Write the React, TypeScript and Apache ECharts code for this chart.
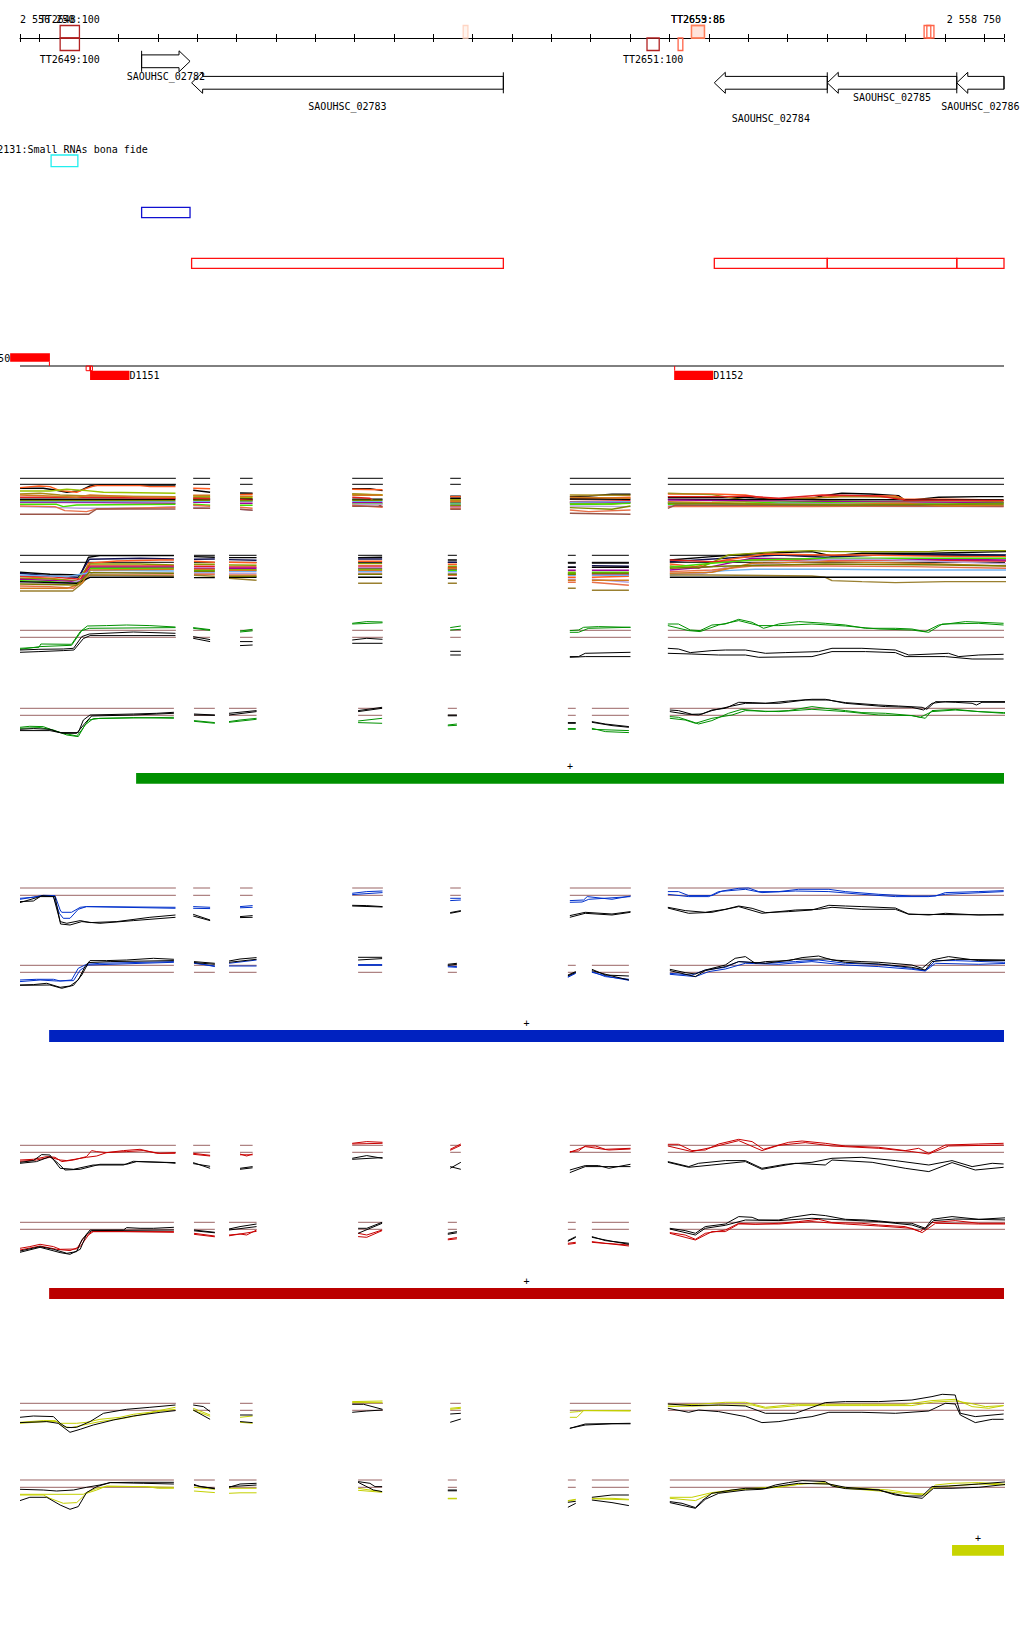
import React, { useEffect, useRef } from "react";
import * as echarts from "echarts";

// ---------------- DATA ----------------
const START = 2556250;
const END = 2558750;
const RULER_TICKS = [2556250, 2556300, 2556400, 2556500, 2556600, 2556700, 2556800, 2556900, 2557000, 2557100, 2557200, 2557300, 2557400, 2557500, 2557600, 2557700, 2557800, 2557900, 2558000, 2558100, 2558200, 2558300, 2558400, 2558500, 2558600, 2558700, 2558750];
const POS_LABELS = [2556250, 2558750];

const TT_NAMES = ["TT2648", "TT2649", "TT2650", "TT2651", "TT2652", "TT2653", "TT2659", "TT2660", "TT2661"];
const TT_START = [2556352, 2556352, 2557376, 2557843, 2557922, 2557956, 2557956, 2558547, 2558554];
const TT_END = [2556401, 2556401, 2557388, 2557874, 2557934, 2557989, 2557989, 2558564, 2558572];
const TT_STRAND = ["+", "-", "+", "-", "-", "+", "+", "+", "+"];
const TT_SCORE = [100, 100, 20, 100, 90, 86, 85, 90, 92];
const TT_LABELED = [true, true, false, true, false, true, true, false, false];

const GENE_NAMES = ["SAOUHSC_02782", "SAOUHSC_02783", "SAOUHSC_02784", "SAOUHSC_02785", "SAOUHSC_02786"];
const GENE_START = [2556559, 2556686, 2558014, 2558301, 2558630];
const GENE_END = [2556682, 2557478, 2558301, 2558630, 2558900];
const GENE_STRAND = ["+", "-", "-", "-", "-"];

const SRNA_TRACK = "2131:Small RNAs bona fide";
const SRNA_START = [2556329];
const SRNA_END = [2556397];

const D_NAMES = ["D1150", "D1151", "D1152"];
const D_START = [2556225, 2556428, 2557912];
const D_END = [2556326, 2556528, 2558011];
const D_STRAND = ["+", "-", "-"];
const SITE_START = [2556418, 2556428];
const SITE_END = [2556428, 2556434];

const BAR_START = [2556545, 2556324, 2556324, 2558618];
const BAR_END = [2558750, 2558750, 2558750, 2558750];
const BAR_STRAND = ["+", "+", "+", "+"];

// measured segments (bp offsets from START)
const SEG_F = [[0, 396], [440, 483], [559, 591], [844, 922], [1093, 1120], [1397, 1552], [1646, 2500]];
const SEG_R = [[0, 391], [442, 495], [531, 601], [859, 920], [1087, 1110], [1392, 1412], [1453, 1547], [1651, 2515]];

const REF_LEVELS = [[0, 6], [0, 7], [0, 7], [0, 7], [0, 7.3], [0, 7], [0, 7], [0, 7], [0, 7], [0, 7.3]];

// Track 1 (multi-sample, forward)
const T1_LINES = [
  [[[0,-4],[59,-4],[89,-5.7],[119,-8],[153,-6.3],[178,-1.7],[203,-0.7],[395,-0.7]],[[440,-6],[483,-8]],[[559,-8.7],[591,-9]],[[844,-4.3],[889,-4.3],[921,-6.3]],[[1093,-12],[1120,-12]],[[1397,-12.3],[1445,-11.7],[1504,-10],[1551,-10]],[[1646,-13],[1758,-13],[1843,-13],[1928,-15],[2012,-14],[2038,-11.7],[2088,-9],[2160,-9.7],[2232,-11.3],[2249,-16.3],[2334,-13],[2436,-12.3],[2499,-12.3]]],
  [[[0,-3.3],[49,-1.7],[76,-2.3],[102,-6.3],[144,-8],[169,-4],[191,-1.3],[305,-1.3],[330,-2.3],[395,-2.3]],[[440,-4],[483,-4.5]],[[559,-10.3],[591,-10]],[[844,-5],[921,-5.5]],[[1093,-12.5],[1120,-12.5]],[[1397,-15],[1551,-13]],[[1646,-9.7],[1758,-9.7],[1843,-10.7],[1877,-13],[1928,-15],[2038,-13],[2097,-11.7],[2224,-11.7],[2249,-15],[2351,-15],[2499,-15.7]]],
  [[[0,-6.7],[76,-6.7],[119,-5],[169,-6.3],[212,-8],[395,-9]],[[440,-11.7],[483,-12.3]],[[559,-13],[591,-13]],[[844,-10],[921,-10.5]],[[1093,-15],[1120,-15]],[[1397,-19],[1504,-20],[1551,-18.3]],[[1646,-18.3],[1758,-18],[1843,-17.3],[1928,-18.3],[2038,-16.3],[2182,-17.3],[2266,-17.3],[2499,-18.3]]],
  [[[0,-9.7],[51,-9],[102,-10.7],[178,-11.7],[395,-12.3]],[[440,-13],[483,-13]],[[559,-14],[591,-14.5]],[[844,-9.5],[921,-11]],[[1093,-16],[1120,-16]],[[1397,-10.7],[1551,-11]],[[1646,-9],[1758,-10.3],[1843,-15.7],[1928,-15.7],[2038,-13.3],[2097,-12.3],[2224,-13],[2249,-15.7],[2499,-17.3]]],
  [[[0,-15],[395,-15]],[[440,-15],[483,-15]],[[559,-15],[591,-15]],[[844,-15],[921,-15]],[[1093,-14],[1120,-14]],[[1397,-14.7],[1551,-15]],[[1646,-15],[2499,-15.7]]],
  [[[0,-13],[119,-13],[395,-14]],[[440,-14],[483,-14.5]],[[559,-15.5],[591,-16]],[[844,-13],[889,-14],[921,-23]],[[1093,-22],[1120,-22]],[[1397,-17.3],[1551,-16.3]],[[1646,-12.3],[1800,-12.3],[1843,-11.7],[1928,-14],[2038,-10.7],[2182,-11.7],[2249,-15.7],[2499,-16.3]]],
  [[[0,-18],[203,-18.3],[395,-19]],[[440,-18],[483,-18]],[[559,-19],[591,-19]],[[844,-18.5],[921,-18.5]],[[1093,-18],[1120,-18]],[[1397,-18.3],[1551,-18]],[[1646,-15.7],[2097,-17.3],[2499,-18.3]]],
  [[[0,-20],[93,-20],[110,-22.3],[144,-20.7],[395,-20]],[[440,-20],[483,-21]],[[559,-21],[591,-21]],[[844,-19.5],[921,-19.5]],[[1093,-19],[1120,-19]],[[1397,-20],[1462,-20],[1551,-19]],[[1646,-20],[1843,-19],[1928,-18],[2182,-19],[2351,-19.7],[2499,-19]]],
  [[[0,-17.3],[395,-17.3]],[[440,-17],[483,-17]],[[559,-17],[591,-17]],[[844,-17],[921,-17]],[[1093,-20],[1120,-20]],[[1397,-18],[1551,-17.3]],[[1646,-18.3],[1843,-20.7],[1928,-19],[2182,-20],[2499,-20.7]]],
  [[[0,-22.3],[102,-23.3],[153,-24],[195,-24],[330,-23.3],[395,-22.3]],[[440,-23],[483,-24]],[[559,-25],[591,-26]],[[844,-20],[921,-20]],[[1093,-23],[1120,-23]],[[1397,-21.7],[1551,-22.3]],[[1646,-21.3],[1928,-21.7],[2266,-22.3],[2499,-22.3]]],
  [[[0,-21.7],[89,-22.3],[114,-26.3],[169,-27.3],[195,-24.7],[395,-23]],[[440,-21],[483,-22]],[[559,-23],[591,-24]],[[844,-21],[921,-23]],[[1093,-24],[1120,-24]],[[1397,-25.7],[1445,-27.3],[1551,-25.7]],[[1646,-22.3],[2012,-22.3],[2266,-21.7],[2499,-22.3]]],
  [[[0,-30],[174,-30],[195,-24.7],[395,-24.7]],[[440,-24],[483,-24]],[[559,-25],[591,-26]],[[844,-22],[921,-22]],[[1093,-25],[1120,-25]],[[1397,-29],[1551,-30]],[[1646,-24],[1665,-20.7],[2499,-21.7]]],
  [[[0,-10.7],[76,-11.7],[144,-13],[178,-10.7],[288,-12.3],[395,-13]],[[440,-11],[483,-11]],[[559,-12],[591,-12]],[[844,-11],[921,-11]],[[1093,-17],[1120,-17]],[[1397,-13],[1551,-14]],[[1646,-17.3],[1928,-20],[2097,-20],[2249,-19],[2351,-21.7],[2499,-20.7]]],
  [[[0,-16.3],[395,-16.3]],[[440,-16],[483,-16]],[[559,-16.5],[591,-16.5]],[[844,-16],[921,-16]],[[1093,-21],[1120,-21]],[[1397,-23.3],[1504,-25],[1551,-21.7]],[[1646,-19],[2097,-20.7],[2499,-19.7]]],
];

// Track 2 (multi-sample, reverse)
const T2_LINES = [
  [[[0,-10],[76,-12],[153,-12.7],[174,5],[203,6.7],[391,6.7]],[[442,5.7],[495,5]],[[531,4.7],[601,4.7]],[[859,4.7],[920,5]],[[1087,2.3],[1110,2.3]],[[1392,-0.7],[1412,-0.7]],[[1453,-0.7],[1547,-0.7]],[[1651,2.3],[1758,5.7],[1885,9],[2012,10.7],[2063,6.3],[2139,9],[2309,9],[2514,10.7]]],
  [[[0,-11],[76,-13.7],[148,-15],[176,3],[305,4],[391,3.3]],[[442,3],[495,3.3]],[[531,2.7],[601,2]],[[859,3.3],[920,3.3]],[[1087,0],[1110,0]],[[1392,-5],[1412,-5]],[[1453,-3.3],[1547,-4]],[[1651,0.7],[1792,4],[1928,7.3],[2046,5],[2182,7.3],[2351,8],[2514,7.3]]],
  [[[0,-14.3],[76,-16],[153,-19.3],[174,-1],[246,1.3],[356,2.3],[391,2.3]],[[442,1],[495,0]],[[531,0],[601,-0.5]],[[859,1],[920,1]],[[1087,-2],[1110,-2]],[[1392,-15],[1412,-15]],[[1453,-15],[1547,-14]],[[1651,-1.7],[1716,-4.3],[1792,2.3],[1894,8.3],[2046,7.3],[2139,7.3],[2393,5.7],[2514,5.7]]],
  [[[0,-16],[76,-16.7],[144,-18.3],[178,-1.7],[305,-1.7],[391,-2.7]],[[442,-2],[495,-2]],[[531,-2.7],[601,-3]],[[859,-1.3],[920,-1.3]],[[1087,-4],[1110,-4]],[[1392,-10],[1412,-10]],[[1453,-11],[1547,-12]],[[1651,-3.7],[1724,-6],[1800,7.3],[1928,10.7],[2012,11.7],[2063,10.7],[2309,10.7],[2351,11.7],[2514,11.7]]],
  [[[0,-13.7],[76,-14.3],[153,-17],[176,-3.7],[391,-3.7]],[[442,-4],[495,-4]],[[531,-4.7],[601,-4.7]],[[859,-3.7],[920,-3.7]],[[1087,-5.3],[1110,-5.3]],[[1392,-12],[1412,-12]],[[1453,-12.5],[1547,-12.5]],[[1651,2.3],[1758,0.7],[1860,2.3],[2046,2.3],[2182,2.3],[2514,1.3]]],
  [[[0,-17],[153,-19.3],[178,-5],[391,-5]],[[442,-6],[495,-6]],[[531,-6],[601,-6]],[[859,-6],[920,-6]],[[1087,-7],[1110,-7]],[[1392,-8],[1412,-8]],[[1453,-8],[1547,-8]],[[1651,-7.7],[1758,-4.3],[1860,4],[2046,3.3],[2351,3],[2514,2.3]]],
  [[[0,-18.3],[76,-19.3],[153,-21],[180,-6],[391,-6]],[[442,-8],[495,-8]],[[531,-7.5],[601,-7.5]],[[859,-7],[920,-7]],[[1087,-8],[1110,-8]],[[1392,-11],[1412,-11]],[[1453,-10],[1547,-10]],[[1651,-5],[1758,-1],[1860,2.3],[2055,4],[2266,4],[2514,4]]],
  [[[0,-12.7],[119,-14.3],[169,-11],[182,-7.7],[391,-8.7]],[[442,-10],[495,-10]],[[531,-9],[601,-9]],[[859,-9],[920,-9]],[[1087,-9.3],[1110,-9.3]],[[1392,-13],[1412,-13]],[[1453,-13],[1547,-13]],[[1651,-12.7],[1724,-11],[1792,-8.3],[1868,-7],[2055,-7],[2266,-7.7],[2514,-7.7]]],
  [[[0,-20.3],[119,-21.7],[161,-17],[186,-10],[391,-11]],[[442,-11],[495,-11]],[[531,-11],[601,-11]],[[859,-10.7],[920,-10.7]],[[1087,-11],[1110,-11]],[[1392,-17],[1412,-17]],[[1453,-17],[1547,-20]],[[1651,-11],[1733,-11.7],[1800,-4.3],[1928,-1],[2055,3],[2182,3],[2514,-1.7]]],
  [[[0,-23.7],[76,-24.3],[136,-26],[174,-12.7],[391,-12.7]],[[442,-12],[495,-12]],[[531,-12.7],[601,-12.7]],[[859,-12],[920,-12]],[[1087,-13],[1110,-13]],[[1392,-20],[1412,-20]],[[1453,-20],[1547,-23]],[[1651,-9.3],[1758,-7.7],[1860,-3.7],[2055,-3.7],[2266,-4.3],[2514,-6]]],
  [[[0,-28.7],[134,-28.7],[153,-22.7],[178,-12.7],[391,-13.7]],[[442,-13],[495,-14]],[[531,-16],[601,-18]],[[859,-21],[920,-21]],[[1087,-21],[1110,-21]],[[1392,-26],[1412,-26]],[[1453,-28],[1547,-28]],[[1651,-12.7],[1758,-12.7],[2012,-13.7],[2046,-15],[2063,-18.3],[2139,-19.3],[2224,-20.3],[2351,-19.3],[2514,-19.3]]],
  [[[0,-19.3],[144,-21],[178,-15],[391,-15]],[[442,-15.3],[495,-15.3]],[[531,-15],[601,-15]],[[859,-15],[920,-15]],[[1087,-16],[1110,-16]],[[1392,-5],[1412,-5]],[[1453,-5],[1547,-5]],[[1651,-15],[2514,-15]]],
  [[[0,-26],[119,-26],[157,-21],[178,-7.7],[391,-7]],[[442,-7],[495,-7]],[[531,-8],[601,-8]],[[859,-8],[920,-8]],[[1087,-6],[1110,-6]],[[1392,-18],[1412,-18]],[[1453,-18],[1547,-18]],[[1651,-11],[1758,-10],[1860,-1],[2055,0.7],[2266,-1],[2514,-3.7]]],
  [[[0,-21.7],[144,-22.7],[176,-10.3],[391,-11]],[[442,-9],[495,-9]],[[531,-14],[601,-14]],[[859,-12],[920,-12]],[[1087,-12],[1110,-12]],[[1392,-12],[1412,-12]],[[1453,-11],[1547,-11]],[[1651,-6],[1800,-3.7],[2046,-1.7],[2351,-2.7],[2514,-3.7]]],
];

// Track 3 (green condition, forward)
const T3_C1 = [[[0,-11],[48,-10],[53,-6.7],[131,-7],[153,5.7],[171,11.3],[220,11.7],[271,12.3],[330,11.7],[395,10.3]],[[440,9.7],[483,7.7]],[[559,6.3],[591,8]],[[844,14],[881,15.7],[921,15.3]],[[1093,9.7],[1120,11.3]],[[1397,6.7],[1419,7.3],[1432,10],[1470,10.7],[1551,10]],[[1646,13.3],[1673,13.3],[1703,7.3],[1728,6.7],[1758,12.3],[1792,13.3],[1826,18],[1860,15],[1889,9],[1928,13.3],[1978,15.7],[2046,14],[2097,12.3],[2148,9],[2224,9],[2266,8.3],[2300,5.7],[2334,12.3],[2402,15.7],[2499,14]]];
const T3_C2 = [[[0,-12],[51,-9.3],[131,-8],[157,6.7],[176,9],[395,9.7]],[[440,9],[483,7]],[[559,5.3],[591,6.5]],[[844,13.3],[921,14.5]],[[1093,7.3],[1120,8]],[[1397,5],[1419,5],[1445,9],[1551,10]],[[1646,11.7],[1699,6.7],[1728,5.7],[1775,12.3],[1826,16.7],[1877,11.7],[1928,11.7],[2012,13.3],[2097,11.3],[2182,8.3],[2266,7.3],[2309,5],[2343,13.3],[2436,14],[2499,12.3]]];
const T3_K1 = [[[0,-12.7],[48,-12],[110,-11.7],[136,-11],[157,0.7],[176,3.3],[288,5.3],[395,4]],[[440,0.7],[483,-2.3]],[[559,-4.3],[591,-4.3]],[[844,-2.7],[881,-1],[921,-2]],[[1093,-14],[1120,-14]],[[1397,-19.3],[1419,-19.3],[1436,-16],[1551,-15]],[[1646,-11],[1673,-11.7],[1703,-15.3],[1758,-13.3],[1792,-12.7],[1843,-12.7],[1894,-16],[1944,-15.3],[2029,-14.3],[2063,-11],[2139,-11],[2224,-12.7],[2258,-17.7],[2359,-16],[2385,-19.3],[2436,-17.7],[2499,-17]]];
const T3_K2 = [[[0,-15],[48,-14.3],[110,-13.3],[137,-12.7],[161,-1.3],[178,1.7],[395,1.7]],[[440,-1],[483,-4.3]],[[559,-8.3],[591,-7.7]],[[844,-6],[921,-6]],[[1093,-17.7],[1120,-17.7]],[[1397,-20],[1436,-19.3],[1551,-19.3]],[[1646,-16],[1707,-16.7],[1775,-17.7],[1843,-17.7],[1877,-20],[2012,-19.3],[2063,-14.3],[2148,-14.3],[2224,-15.3],[2249,-19.3],[2351,-19.3],[2419,-21.7],[2499,-21.7]]];

// Track 4 (green condition, reverse)
const T4_C1 = [[[0,-12],[25,-11],[59,-11.3],[93,-16.3],[144,-20.7],[157,-14.7],[174,-4.7],[203,-3],[288,-2.3],[391,-3]],[[442,-5.3],[495,-7.3]],[[531,-6.3],[559,-4.7],[601,-3]],[[859,-5.7],[920,-3]],[[1087,-9.7],[1110,-8.7]],[[1392,-13.3],[1412,-13.3]],[[1453,-13],[1487,-16.3],[1547,-17.3]],[[1651,-1.3],[1673,-2],[1707,-6.3],[1724,-8.7],[1758,-5.3],[1800,2],[1834,6],[1894,3.7],[1953,4.7],[2012,8.7],[2046,7],[2097,4.7],[2139,2.7],[2199,2],[2266,-0.3],[2300,-3],[2317,4.7],[2376,6],[2436,3.7],[2499,2.7],[2514,2.7]]];
const T4_C2 = [[[0,-13],[51,-12.3],[85,-14.7],[119,-19.7],[148,-21.3],[165,-9.7],[186,-3.3],[391,-2]],[[442,-6],[495,-8]],[[531,-7],[601,-4]],[[859,-7.3],[920,-8]],[[1087,-10.5],[1110,-10]],[[1392,-14],[1412,-14]],[[1453,-14],[1504,-14.7],[1547,-15.3]],[[1651,-3],[1690,-4.7],[1716,-8],[1758,-3],[1809,0.3],[1843,4.7],[1928,3.7],[2012,6],[2097,3.7],[2182,0.3],[2266,-0.3],[2287,-2],[2317,3.7],[2376,5.3],[2499,2],[2514,2]]];
const T4_K1 = [[[0,-14],[34,-13.3],[76,-14],[102,-17.3],[148,-17.3],[161,-4.7],[178,0.3],[288,1.3],[347,2],[391,3]],[[442,1.3],[495,0.3]],[[531,2],[601,4.7]],[[859,4.7],[920,8]],[[1087,0.3],[1110,0.3]],[[1392,-7.3],[1412,-7.3]],[[1453,-6.3],[1487,-8.7],[1547,-11.3]],[[1651,5.3],[1673,4.7],[1707,1],[1733,1.3],[1758,5.3],[1792,7],[1826,13],[1860,12.7],[1894,12],[1953,14.3],[2012,16],[2046,16],[2063,14.7],[2097,12.7],[2182,10.3],[2232,9.3],[2292,8],[2304,6],[2326,13.7],[2376,13],[2419,12],[2430,10.3],[2444,13],[2514,13]]];
const T4_K2 = [[[0,-15.3],[76,-15.3],[110,-18],[144,-18],[165,-8],[182,-0.7],[288,0.3],[391,2]],[[442,0.3],[495,0]],[[531,0.3],[601,3.7]],[[859,3.7],[920,7]],[[1087,-0.5],[1110,-0.5]],[[1392,-8],[1412,-8]],[[1453,-7],[1504,-10.3],[1547,-12]],[[1651,3.7],[1690,1.3],[1724,0.3],[1758,4.7],[1809,9.3],[1843,12],[1928,12],[1995,15.3],[2055,15.3],[2097,12],[2199,8.7],[2266,8],[2296,5.3],[2317,12],[2351,13.7],[2514,13.7]]];

// Track 5 (blue condition, forward)
const T5_C1 = [[[0,-3],[34,-2],[59,0],[89,-0.3],[102,-14.7],[106,-17],[131,-17],[153,-12],[169,-11.3],[395,-12]],[[440,-11.3],[483,-12]],[[559,-11.3],[591,-10.3]],[[844,2],[881,3.7],[921,4.3]],[[1093,-3],[1120,-3]],[[1397,-5.3],[1432,-4.7],[1441,-1.3],[1504,-4],[1551,-0.7]],[[1646,3.7],[1673,3.7],[1699,-0.3],[1758,-0.3],[1784,4.3],[1826,7],[1851,7.3],[1877,3.7],[1928,3.7],[1978,6],[2055,6],[2097,3.7],[2182,1],[2266,-0.7],[2326,-0.7],[2351,2.7],[2436,3.7],[2499,4.7]]];
const T5_C2 = [[[0,-4],[51,-0.7],[85,-1.3],[100,-18],[110,-23],[127,-23],[148,-14],[169,-11.3],[395,-13]],[[440,-13],[483,-13.3]],[[559,-12.5],[591,-12]],[[844,0.7],[921,2.7]],[[1093,-5.3],[1120,-4.7]],[[1397,-7],[1428,-6.7],[1445,-4],[1551,-1.3]],[[1646,1],[1699,-1.3],[1750,-1.3],[1775,3.7],[1843,6],[1885,2.7],[1970,4.3],[2055,3.7],[2139,1],[2224,-1.3],[2309,-1.3],[2351,1],[2499,3.7]]];
const T5_K1 = [[[0,-6.3],[34,-5.7],[55,-0.3],[85,-1.3],[102,-26.3],[119,-28],[153,-25.3],[178,-27.3],[246,-26.3],[330,-22],[395,-19.7]],[[440,-19],[483,-24.7]],[[559,-21.3],[591,-20.3]],[[844,-10],[881,-10.3],[921,-11.3]],[[1093,-17.3],[1120,-15.3]],[[1397,-20.3],[1436,-17],[1504,-18.7],[1551,-16.3]],[[1646,-12],[1690,-15.3],[1741,-17],[1792,-14],[1826,-10.7],[1860,-13],[1894,-17.3],[1953,-16.3],[2012,-14.7],[2055,-10],[2097,-10.7],[2139,-11.3],[2224,-12.7],[2258,-18.7],[2309,-19.7],[2351,-18],[2436,-19.7],[2499,-19]]];
const T5_K2 = [[[0,-7.3],[51,-1.3],[89,-1.3],[103,-28.7],[127,-29.7],[157,-26.3],[203,-28],[288,-25.3],[395,-22]],[[440,-20.7],[483,-25.3]],[[559,-22.3],[591,-22]],[[844,-10.7],[921,-11.7]],[[1093,-18],[1120,-16]],[[1397,-22],[1436,-18],[1504,-19.7],[1551,-17]],[[1646,-12.7],[1699,-18],[1758,-17],[1826,-11.3],[1885,-18],[1970,-14.7],[2029,-14],[2063,-12],[2139,-14],[2224,-14],[2258,-19],[2499,-19.7]]];

// Track 6 (blue condition, reverse)
const T6_C1 = [[[0,-7.7],[42,-7],[85,-7],[102,-8.7],[131,-7.7],[148,4],[169,8],[203,9],[391,10.7]],[[442,9.7],[495,5.7]],[[531,6.3],[601,6.3]],[[859,7.7],[920,7.7]],[[1087,6.3],[1110,5.7]],[[1392,-4.3],[1412,-0.3]],[[1453,0.7],[1487,-4.3],[1547,-7]],[[1651,-1],[1707,-2.7],[1741,2.3],[1792,5],[1826,10.7],[1894,9],[1970,10.7],[2029,12.3],[2097,9],[2182,8],[2266,4],[2300,1.7],[2326,11.7],[2376,11.7],[2499,10],[2514,10]]];
const T6_C2 = [[[0,-9.3],[51,-7.7],[93,-8.7],[136,-8.3],[153,2.3],[174,7.3],[391,10]],[[442,9],[495,6.3]],[[531,9],[601,12.3]],[[859,7],[920,7]],[[1087,5.5],[1110,5]],[[1392,-5],[1412,-1]],[[1453,0],[1504,-5],[1547,-8]],[[1651,-2],[1716,-4.3],[1750,0.7],[1792,3.3],[1843,9],[1928,8],[2012,10.7],[2097,7.3],[2182,5.7],[2266,3],[2300,1.3],[2326,9],[2436,8],[2514,9]]];
const T6_K1 = [[[0,-12.7],[34,-12.3],[68,-11],[102,-15],[127,-13.7],[148,-7.7],[165,5.7],[178,11.7],[220,11.7],[271,12.3],[339,14],[391,13]],[[442,10.7],[495,9]],[[531,11.3],[559,13.3],[601,14.7]],[[859,15],[920,15]],[[1087,8],[1110,9]],[[1392,-2.7],[1412,0.7]],[[1453,3],[1487,-2.7],[1547,-3.7]],[[1651,3],[1690,-0.3],[1716,-1.7],[1741,2.3],[1792,7.3],[1817,14],[1843,15.7],[1868,9],[1894,10.7],[1953,11.7],[1987,14.7],[2029,16.3],[2063,12.3],[2139,10.7],[2182,10],[2215,9],[2266,7.3],[2292,4],[2317,12.3],[2359,15.7],[2436,11.7],[2514,11.7]]];
const T6_K2 = [[[0,-13],[76,-12.7],[106,-16],[136,-13],[157,-2.7],[174,9.7],[229,10.7],[391,11.7]],[[442,9.7],[495,8]],[[531,10],[601,13]],[[859,12.3],[920,13.7]],[[1087,7],[1110,8]],[[1392,-3.5],[1412,0]],[[1453,1.7],[1504,-3.7],[1547,-7.7]],[[1651,1.7],[1716,-4.3],[1741,1.7],[1792,5.7],[1826,10.7],[1894,9],[1970,13],[2055,13.3],[2097,10],[2182,8.3],[2266,5],[2300,2.3],[2317,10.7],[2376,13],[2514,12.3]]];

// Track 7 (red condition, forward)
const T7_C1 = [[[0,-7.7],[34,-7],[68,-4.3],[89,-5],[106,-9.3],[136,-7.7],[169,-4.3],[182,1.7],[195,0.7],[220,-0.3],[263,1.7],[305,3],[347,-1],[395,-1]],[[440,-1],[483,-3]],[[559,-1.7],[576,-3.7],[591,-1.7]],[[844,9],[881,10.7],[921,10]],[[1093,3],[1120,8.3]],[[1397,0.7],[1419,1.3],[1436,6.3],[1462,6.3],[1487,3],[1551,4]],[[1646,8],[1673,8],[1707,1.7],[1741,2.3],[1775,8.3],[1826,13],[1860,10.7],[1889,3],[1919,6.3],[1953,10],[1987,11.3],[2046,9],[2097,6.3],[2182,5],[2249,1.7],[2283,4],[2309,-1],[2351,7.3],[2436,8.3],[2499,9]]];
const T7_C2 = [[[0,-9],[42,-7.7],[76,-5],[102,-7.7],[119,-8.3],[169,-5],[195,-3.7],[220,-0.3],[271,0.7],[313,1.7],[356,-1],[395,-0.3]],[[440,-2],[483,-3.7]],[[559,-2.5],[591,-2.5]],[[844,8.3],[921,9]],[[1093,2],[1120,7]],[[1397,0],[1436,5.7],[1496,2.3],[1551,3.3]],[[1646,6.3],[1707,0.7],[1758,5],[1826,11.7],[1885,1.7],[1928,7],[1995,9.7],[2063,6.3],[2182,4],[2266,0.7],[2309,-1.7],[2359,6.3],[2499,7.3]]];
const T7_K1 = [[[0,-10],[34,-8.3],[55,-2.3],[76,-2.7],[102,-16],[136,-17],[186,-12.7],[263,-12.7],[288,-9],[373,-10.3],[395,-11]],[[440,-10.3],[483,-16]],[[559,-16],[591,-14.3]],[[844,-6],[881,-3.3],[921,-6]],[[1093,-16],[1120,-10]],[[1397,-17.7],[1436,-13.3],[1470,-13.3],[1496,-16],[1551,-12]],[[1646,-9.3],[1699,-14.3],[1724,-11],[1792,-8.3],[1843,-8.3],[1885,-16],[1944,-12],[2012,-10],[2063,-6],[2139,-5],[2224,-8.3],[2309,-12.7],[2368,-8.3],[2419,-14.3],[2470,-11],[2499,-11.7]]];
const T7_K2 = [[[0,-11],[42,-9.3],[76,-4.3],[97,-11],[114,-17.7],[153,-17],[203,-12],[271,-12],[296,-9.3],[395,-10.3]],[[440,-11.3],[483,-14]],[[559,-17],[591,-15.5]],[[844,-7],[921,-5.3]],[[1093,-14.3],[1120,-17]],[[1397,-20.3],[1436,-14.3],[1551,-14.3]],[[1646,-10],[1699,-15],[1758,-12.7],[1843,-9.3],[1885,-17],[1970,-11],[2046,-12.7],[2063,-7.7],[2165,-10],[2249,-16],[2309,-19.3],[2368,-10.3],[2427,-17.7],[2499,-15]]];

// Track 8 (red condition, reverse)
const T8_C1 = [[[0,-19],[25,-17.3],[51,-15],[85,-17.3],[102,-20],[144,-19.7],[161,-9],[182,-2.3],[263,-2.3],[391,-3]],[[442,-4],[495,-6.7]],[[531,-5.7],[559,-4.7],[576,-5.7],[601,-0.7]],[[859,-4],[881,-5.7],[920,-0.7]],[[1087,-9.7],[1110,-8.3]],[[1392,-14],[1412,-13]],[[1453,-12.3],[1487,-14],[1547,-15.7]],[[1651,-3.3],[1690,-5.7],[1716,-10],[1741,-4],[1792,-0.7],[1826,6],[1868,5],[1928,6],[1978,7.7],[2029,10],[2063,6.7],[2139,6],[2182,4.3],[2249,2.7],[2287,-2.3],[2317,6.7],[2376,8.7],[2436,6],[2499,6],[2514,6]]];
const T8_C2 = [[[0,-20.7],[51,-16.7],[93,-20],[127,-21.3],[153,-17.3],[174,-5.7],[186,-2.3],[391,-2.3]],[[442,-5],[495,-7.5]],[[531,-6.5],[601,-2]],[[859,-7.3],[881,-8],[920,-1.3]],[[1087,-10.5],[1110,-9.5]],[[1392,-15],[1412,-14]],[[1453,-13],[1504,-14.7],[1547,-16.7]],[[1651,-4],[1716,-10.7],[1758,-2.3],[1792,-2.3],[1826,5.3],[1928,5.3],[2012,7.7],[2097,5.3],[2182,3.3],[2266,1],[2292,-3.3],[2326,6],[2436,5.3],[2514,5.3]]];
const T8_K1 = [[[0,-21.7],[51,-17.3],[85,-20],[119,-24],[144,-22.3],[157,-10.7],[178,-0.7],[263,-0.7],[271,1.7],[305,1],[339,1],[391,2]],[[442,-0.7],[495,-3]],[[531,0.3],[559,2.7],[601,5.3]],[[859,1],[881,1],[920,7]],[[1087,-4],[1110,-2.3]],[[1392,-11.3],[1412,-7.3]],[[1453,-7.3],[1487,-11.3],[1547,-14]],[[1651,1],[1690,-1.3],[1716,-4],[1741,2.7],[1792,5.3],[1826,12.7],[1860,12],[1877,9.3],[1928,9.3],[1961,12],[2012,15],[2046,13.7],[2097,10],[2148,9.3],[2182,8.3],[2224,6.7],[2266,6],[2300,1],[2317,10],[2368,12.7],[2436,10],[2514,11.7]]];
const T8_K2 = [[[0,-23],[51,-18],[102,-23.3],[127,-25],[153,-20],[169,-5],[182,-1.3],[391,-0.7]],[[442,-1.5],[495,-3.5]],[[531,-0.7],[601,2.7]],[[859,-4],[920,6]],[[1087,-5],[1110,-3.5]],[[1392,-12],[1412,-8]],[[1453,-8],[1504,-12],[1547,-15]],[[1651,0.3],[1716,-5.7],[1741,1],[1792,4],[1843,9.3],[1928,8.7],[2012,11],[2097,9.3],[2182,7.7],[2266,4.3],[2300,0],[2321,8.7],[2376,10.3],[2514,9.3]]];

// Track 9 (yellow condition, forward)
const T9_C1 = [[[0,-12],[59,-10.3],[89,-10.3],[102,-13],[144,-13],[169,-12],[203,-9],[254,-7],[288,-4],[330,-2],[395,3]],[[440,2],[483,-4.7]],[[559,-7],[591,-5.7]],[[844,8.7],[921,9.3]],[[1093,2],[1120,3]],[[1397,-2],[1419,-1.3],[1432,-0.3],[1551,-0.7]],[[1646,5.3],[1724,6],[1792,8],[1843,8],[1894,3],[1970,6],[2046,6],[2139,6],[2249,6],[2317,9.7],[2376,11],[2419,3.7],[2461,2],[2499,4.7]]];
const T9_C2 = [[[0,-13],[64,-11.3],[93,-11.3],[110,-16.3],[131,-17.3],[161,-14.7],[203,-11.3],[263,-8],[305,-4.7],[347,-1.3],[395,1]],[[440,0],[483,-6]],[[559,-12],[591,-13]],[[844,7.7],[921,7.7]],[[1093,1],[1120,2]],[[1397,-7],[1415,-7],[1432,-0.3],[1551,-0.3]],[[1646,3.7],[1724,4.3],[1792,5.3],[1860,5.3],[1894,2],[1978,4.7],[2046,4.7],[2139,4.7],[2266,4.7],[2321,8.3],[2376,9.3],[2414,7],[2453,3.7],[2499,4.7]]];
const T9_K1 = [[[0,-7],[34,-5.7],[85,-6.3],[102,-13],[119,-17.3],[144,-17],[178,-11.3],[212,-3],[271,1],[330,3],[395,5.3]],[[440,5.3],[466,3.7],[483,-1.3]],[[559,-4.7],[591,-4.7]],[[844,6],[873,6],[921,1]],[[1093,-3.7],[1120,-3]],[[1397,-18],[1436,-13.7],[1551,-13]],[[1646,6.3],[1707,4.7],[1775,5.3],[1843,4.3],[1894,-3],[1970,-3],[2046,7.7],[2097,8.7],[2182,8.7],[2266,10.3],[2317,13.7],[2343,16],[2376,15.3],[2389,-3],[2427,-6.3],[2499,-3.7]]];
const T9_K2 = [[[0,-12.3],[68,-11.3],[97,-13],[127,-22],[153,-19],[186,-14.7],[237,-9.7],[288,-5.7],[356,-2],[395,-0.3]],[[440,0.3],[483,-9]],[[559,-11.3],[591,-12.3]],[[844,-2],[881,-0.7],[921,0.3]],[[1093,-12],[1120,-8.7]],[[1397,-18],[1436,-14.7],[1504,-13.5],[1551,-13.5]],[[1646,2],[1699,-2],[1724,0.3],[1775,-1.3],[1843,-6.3],[1885,-12.3],[1928,-11.3],[1978,-8],[2012,-6.3],[2055,-2],[2139,-2],[2224,-3],[2309,-0.7],[2351,7],[2376,6.3],[2389,-4.7],[2427,-12.3],[2470,-9],[2499,-9]]];

// Track 10 (yellow condition, reverse)
const T10_C1 = [[[0,-7],[161,-7],[174,-4.3],[195,-1],[220,0.7],[322,0.7],[351,-1],[391,-1]],[[442,0],[495,-2]],[[531,-1],[601,-1]],[[859,-1],[889,-2.7],[920,-4.3]],[[1087,-11],[1110,-11]],[[1392,-13.3],[1412,-12]],[[1453,-11],[1504,-11],[1547,-12]],[[1651,-10],[1707,-10],[1758,-5.3],[1809,-2.7],[1860,-1],[1928,0.7],[1978,3],[2046,4.7],[2080,0],[2139,-1],[2207,-2.7],[2266,-6],[2300,-6.7],[2326,2.3],[2368,4],[2436,4.7],[2499,3.3],[2514,3.3]]];
const T10_C2 = [[[0,-7.7],[59,-7.7],[76,-11],[110,-16],[144,-15.3],[169,-6],[195,-2.7],[220,1.3],[391,0]],[[442,-3.7],[495,-5.3]],[[531,-6],[559,-5.5],[601,-5.5]],[[859,-3],[920,-5]],[[1087,-11.5],[1110,-11.5]],[[1392,-13.8],[1412,-12.5]],[[1453,-11.5],[1547,-12.5]],[[1651,-11],[1716,-13.3],[1758,-6],[1843,-2],[1928,0],[1995,4],[2055,3.3],[2097,-1],[2182,-3.7],[2224,-5.3],[2300,-7.7],[2321,0],[2436,3.3],[2514,2.3]]];
const T10_K1 = [[[0,-2],[59,-2.7],[93,-3.7],[136,-2.7],[169,0],[203,2.3],[229,4.7],[288,5],[391,5]],[[442,3],[457,0.7],[495,-1]],[[531,0],[559,3.3],[601,4]],[[859,5.7],[889,4],[902,0.7],[920,0.7]],[[1087,-2.7],[1110,-2.7]],[[1392,-20],[1412,-16]],[[1453,-10],[1504,-7.7],[1547,-7.7]],[[1651,-14.3],[1682,-16],[1716,-20.3],[1733,-13.3],[1758,-6],[1809,-2.7],[1843,-1],[1894,-1],[1919,2.3],[1953,4.7],[1987,6.7],[2046,5.7],[2063,1.3],[2097,-1.3],[2182,-2.7],[2215,-6],[2249,-8.7],[2292,-8.7],[2317,0.7],[2359,1.3],[2436,3.3],[2514,5.7]]];
const T10_K2 = [[[0,-13.3],[25,-10],[68,-10],[102,-17.7],[127,-22],[148,-19.3],[169,-5.3],[195,0.7],[229,4.7],[313,4],[391,3.3]],[[442,2],[495,-1.5]],[[531,0.7],[559,1.3],[601,2.3]],[[859,5],[898,-2.7],[920,-4.3]],[[1087,-3.5],[1110,-3.5]],[[1392,-15],[1412,-14]],[[1453,-12.7],[1504,-15.3],[1547,-18.3]],[[1651,-15.3],[1690,-18.7],[1716,-21],[1741,-12],[1775,-6],[1843,-2.7],[1885,-2],[1928,1.3],[1978,4],[2055,3.3],[2097,0],[2182,-2.7],[2224,-7.7],[2292,-11],[2321,-1],[2368,-1],[2436,0],[2514,3.3]]];

// ---------------- LAYOUT / STYLE ----------------
const W = 1024;
const H = 1640;
const PLOT_LEFT = 20;
const PLOT_W = 984;
const FONT = '10px "DejaVu Sans Mono", monospace';
const AXIS_Y = 38;
const TT_H = 12.5;
const GENE_ROW: Record<string, number> = { "+": 61.3, "-": 82.8 };
const BODY_HALF = 6.4;
const HEAD_HALF = 10.5;
const HEAD_LEN = 11;
const GENE_LABEL_DY = [14.7, 23.2, 35.2, 14.2, 23.2];
const SRNA_ROW = [155, 166.7];
const CDS_ROW: Record<string, number[]> = { "+": [207.3, 217.7], "-": [258.3, 268.3] };
const D_AXIS_Y = 366;
const D_ROW: Record<string, number[]> = { "+": [353.3, 361.7], "-": [370.7, 380] };
const BAR_TOP = [773, 1030, 1288, 1545];
const BAR_HT = [10.7, 12, 11, 10.7];
const BAR_COLORS = ["#009000", "#0022c0", "#bb0000", "#c8d400"];
const TRACK_REF_Y = [484.3, 562.3, 637.3, 715.3, 895.3, 972.3, 1152.3, 1229.3, 1410.3, 1487.3];
const Y_MIN = -45;
const Y_MAX = 35;
const REF_BROWN = "#9a6464";
const MULTI_COLORS = ["#000000", "#ff5a1f", "#99c400", "#a88a1a", "#000000", "#e02020", "#a0009a", "#44dd00", "#70b0f0", "#b8a4dc", "#e8704a", "#9a5548", "#d2781e", "#7a8a00"];
const MULTI_COLORS_2 = ["#000000", "#101050", "#ff5a1f", "#8a9a00", "#e02020", "#a0009a", "#44dd00", "#70b0f0", "#b8a4dc", "#e8704a", "#9a8030", "#000000", "#d2781e", "#7a7a00"];
const GREEN = "#009100";
const BLUE = "#0030cc";
const RED = "#c80000";
const YELLOW = "#c4d000";

const TRACKS = [
  { segs: SEG_F, refColor: "#000000", lines: T1_LINES, colors: MULTI_COLORS, width: 1.4 },
  { segs: SEG_R, refColor: "#000000", lines: T2_LINES, colors: MULTI_COLORS_2, width: 1.4 },
  { segs: SEG_F, refColor: REF_BROWN, lines: [T3_C1, T3_C2, T3_K1, T3_K2], colors: [GREEN, GREEN, "#000", "#000"], width: 1 },
  { segs: SEG_R, refColor: REF_BROWN, lines: [T4_C1, T4_C2, T4_K1, T4_K2], colors: [GREEN, GREEN, "#000", "#000"], width: 1 },
  { segs: SEG_F, refColor: REF_BROWN, lines: [T5_C1, T5_C2, T5_K1, T5_K2], colors: [BLUE, BLUE, "#000", "#000"], width: 1 },
  { segs: SEG_R, refColor: REF_BROWN, lines: [T6_C1, T6_C2, T6_K1, T6_K2], colors: [BLUE, BLUE, "#000", "#000"], width: 1 },
  { segs: SEG_F, refColor: REF_BROWN, lines: [T7_C1, T7_C2, T7_K1, T7_K2], colors: [RED, RED, "#000", "#000"], width: 1 },
  { segs: SEG_R, refColor: REF_BROWN, lines: [T8_C1, T8_C2, T8_K1, T8_K2], colors: [RED, RED, "#000", "#000"], width: 1 },
  { segs: SEG_F, refColor: REF_BROWN, lines: [T9_C1, T9_C2, T9_K1, T9_K2], colors: [YELLOW, YELLOW, "#000", "#000"], width: 1 },
  { segs: SEG_R, refColor: REF_BROWN, lines: [T10_C1, T10_C2, T10_K1, T10_K2], colors: [YELLOW, YELLOW, "#000", "#000"], width: 1 },
];

function fmtPos(n: number) {
  return String(n).replace(/\B(?=(\d{3})+(?!\d))/g, " ");
}
function ttStroke(s: number) {
  return s >= 100 ? "#b22222" : s >= 88 ? "#ff6347" : s >= 80 ? "#ff7f5a" : "#ffd5c4";
}
function ttFill(s: number) {
  return s >= 88 ? "none" : s >= 80 ? "rgba(255,190,170,0.25)" : "#fff4ee";
}
function lineData(segs: number[][][]) {
  const out: any[] = [];
  segs.forEach((seg, k) => {
    if (k > 0) out.push([START + seg[0][0], "-"]);
    seg.forEach((p) => out.push([START + p[0], p[1]]));
  });
  return out;
}
function refData(segs: number[][], level: number) {
  const out: any[] = [];
  segs.forEach((s, k) => {
    if (k > 0) out.push([START + s[0], "-"]);
    out.push([START + s[0], level]);
    out.push([START + s[1], level]);
  });
  return out;
}

function buildOption() {
  const xc = (api: any, v: number) => api.coord([v, 0])[0];
  const endPx = (api: any) => xc(api, END);

  const grids: any[] = [
    { left: PLOT_LEFT, width: PLOT_W, top: 0, height: H },
    { left: PLOT_LEFT, width: PLOT_W, top: AXIS_Y, height: 1 },
    ...TRACK_REF_Y.map((r) => ({ left: PLOT_LEFT, width: PLOT_W, top: r - Y_MAX, height: Y_MAX - Y_MIN })),
  ];
  const xAxes: any[] = [
    { gridIndex: 0, type: "value", min: START, max: END, show: false },
    {
      gridIndex: 1, type: "value", position: "top", min: START, max: END,
      axisLine: { show: true, onZero: false, lineStyle: { color: "#000", width: 1 } },
      axisTick: { show: true, length: 4, customValues: RULER_TICKS, lineStyle: { color: "#000", width: 1 } },
      axisLabel: { show: false }, splitLine: { show: false },
    },
    {
      gridIndex: 1, type: "value", position: "bottom", min: START, max: END,
      axisLine: { show: false, onZero: false },
      axisTick: { show: true, length: 3, customValues: RULER_TICKS, lineStyle: { color: "#000", width: 1 } },
      axisLabel: { show: false }, splitLine: { show: false },
    },
    ...TRACK_REF_Y.map((_, k) => ({ gridIndex: k + 2, type: "value", min: START, max: END, show: false })),
  ];
  const yAxes: any[] = [
    { gridIndex: 0, type: "value", min: 0, max: H, inverse: true, show: false },
    { gridIndex: 1, type: "value", min: 0, max: 1, show: false },
    ...TRACK_REF_Y.map((_, k) => ({ gridIndex: k + 2, type: "value", min: Y_MIN, max: Y_MAX, show: false })),
  ];

  const series: any[] = [];

  // position labels
  series.push({
    type: "custom", xAxisIndex: 0, yAxisIndex: 0, silent: true, z: 5,
    data: POS_LABELS.map((p, i) => [p, p, i]),
    encode: { x: [0, 1], y: 2 },
    renderItem: (p: any, api: any) => {
      const i = api.value(2);
      return {
        type: "text",
        style: {
          text: fmtPos(POS_LABELS[i]), x: xc(api, POS_LABELS[i]) + (i === 0 ? 0 : -3), y: 19.5,
          textAlign: i === 0 ? "left" : "right", textVerticalAlign: "middle", font: FONT, fill: "#000",
        },
      };
    },
  });

  // terminators
  series.push({
    type: "custom", xAxisIndex: 0, yAxisIndex: 0, silent: true, z: 6,
    data: TT_START.map((s, i) => [s, TT_END[i], i]),
    encode: { x: [0, 1], y: 2 },
    renderItem: (p: any, api: any) => {
      const i = api.value(2);
      const x1 = xc(api, TT_START[i]);
      const x2 = xc(api, TT_END[i]);
      const up = TT_STRAND[i] === "+";
      const y = up ? AXIS_Y - TT_H : AXIS_Y;
      const children: any[] = [
        { type: "rect", shape: { x: x1, y, width: x2 - x1, height: TT_H }, style: { fill: ttFill(TT_SCORE[i]), stroke: ttStroke(TT_SCORE[i]), lineWidth: 1.3 } },
      ];
      if (TT_LABELED[i]) {
        children.push({
          type: "text",
          style: { text: TT_NAMES[i] + ":" + TT_SCORE[i], x: (x1 + x2) / 2, y: up ? 19.5 : 59, textAlign: "center", textVerticalAlign: "middle", font: FONT, fill: "#000" },
        });
      }
      return { type: "group", children };
    },
  });

  // genes (arrows)
  series.push({
    type: "custom", xAxisIndex: 0, yAxisIndex: 0, silent: true, z: 6,
    data: GENE_START.map((s, i) => [s, GENE_END[i], i]),
    encode: { x: [0, 1], y: 2 },
    renderItem: (p: any, api: any) => {
      const i = api.value(2);
      const x1 = xc(api, GENE_START[i]);
      const rawX2 = xc(api, GENE_END[i]);
      const clipped = rawX2 > endPx(api);
      const x2 = Math.min(rawX2, endPx(api));
      const c = GENE_ROW[GENE_STRAND[i]];
      const b = BODY_HALF, hh = HEAD_HALF, hl = HEAD_LEN;
      let pts: number[][];
      let cap: any;
      if (GENE_STRAND[i] === "+") {
        pts = [[x1, c - b], [x2 - hl, c - b], [x2 - hl, c - hh], [x2, c], [x2 - hl, c + hh], [x2 - hl, c + b], [x1, c + b]];
        cap = { type: "line", shape: { x1, y1: c - hh, x2: x1, y2: c + hh }, style: { stroke: "#000", lineWidth: 1 } };
      } else {
        pts = [[x1, c], [x1 + hl, c - hh], [x1 + hl, c - b], [x2, c - b], [x2, c + b], [x1 + hl, c + b], [x1 + hl, c + hh]];
        const ch = clipped ? b : hh;
        cap = { type: "line", shape: { x1: x2, y1: c - ch, x2, y2: c + ch }, style: { stroke: "#000", lineWidth: 1 } };
      }
      return {
        type: "group",
        children: [
          { type: "polygon", shape: { points: pts }, style: { fill: "#fff", stroke: "#000", lineWidth: 1 } },
          cap,
        ],
      };
    },
  });

  // gene labels (drawn above the arrows)
  series.push({
    type: "custom", xAxisIndex: 0, yAxisIndex: 0, silent: true, z: 8,
    data: GENE_START.map((s, i) => [s, GENE_END[i], i]),
    encode: { x: [0, 1], y: 2 },
    renderItem: (p: any, api: any) => {
      const i = api.value(2);
      const x1 = xc(api, GENE_START[i]);
      const x2 = Math.min(xc(api, GENE_END[i]), endPx(api));
      const c = GENE_ROW[GENE_STRAND[i]];
      return {
        type: "text",
        style: { text: GENE_NAMES[i], x: (x1 + x2) / 2, y: c + GENE_LABEL_DY[i], textAlign: "center", textVerticalAlign: "middle", font: FONT, fill: "#000" },
      };
    },
  });

  // small RNA (bona fide)
  series.push({
    type: "custom", xAxisIndex: 0, yAxisIndex: 0, silent: true, z: 6,
    data: SRNA_START.map((s, i) => [s, SRNA_END[i], i]),
    encode: { x: [0, 1], y: 2 },
    renderItem: (p: any, api: any) => {
      const i = api.value(2);
      const x1 = xc(api, SRNA_START[i]);
      const x2 = xc(api, SRNA_END[i]);
      return { type: "rect", shape: { x: x1, y: SRNA_ROW[0], width: x2 - x1, height: SRNA_ROW[1] - SRNA_ROW[0] }, style: { fill: "none", stroke: "#22eeee", lineWidth: 1.3 } };
    },
  });

  // CDS boxes by strand
  series.push({
    type: "custom", xAxisIndex: 0, yAxisIndex: 0, silent: true, z: 6,
    data: GENE_START.map((s, i) => [s, GENE_END[i], i]),
    encode: { x: [0, 1], y: 2 },
    renderItem: (p: any, api: any) => {
      const i = api.value(2);
      const x1 = xc(api, GENE_START[i]);
      const x2 = Math.min(xc(api, GENE_END[i]), endPx(api));
      const row = CDS_ROW[GENE_STRAND[i]];
      const col = GENE_STRAND[i] === "+" ? "#1010d0" : "#ff1010";
      return { type: "rect", shape: { x: x1, y: row[0], width: x2 - x1, height: row[1] - row[0] }, style: { fill: "none", stroke: col, lineWidth: 1.3 } };
    },
  });

  // D track axis line
  series.push({
    type: "custom", xAxisIndex: 0, yAxisIndex: 0, silent: true, z: 5,
    data: [[START, END, 0]],
    encode: { x: [0, 1], y: 2 },
    renderItem: (p: any, api: any) => ({
      type: "line", shape: { x1: xc(api, START), y1: D_AXIS_Y, x2: xc(api, END), y2: D_AXIS_Y }, style: { stroke: "#000", lineWidth: 1 },
    }),
  });

  // D features
  series.push({
    type: "custom", xAxisIndex: 0, yAxisIndex: 0, silent: true, z: 6,
    data: D_START.map((s, i) => [s, D_END[i], i]),
    encode: { x: [0, 1], y: 2 },
    renderItem: (p: any, api: any) => {
      const i = api.value(2);
      const x1 = xc(api, D_START[i]);
      const x2 = xc(api, D_END[i]);
      const up = D_STRAND[i] === "+";
      const row = D_ROW[D_STRAND[i]];
      const lx = up ? x2 - 0.5 : x1 + 0.5;
      return {
        type: "group",
        children: [
          { type: "rect", shape: { x: x1, y: row[0], width: x2 - x1, height: row[1] - row[0] }, style: { fill: "#ff0000" } },
          { type: "line", shape: { x1: lx, y1: up ? row[1] : D_AXIS_Y, x2: lx, y2: up ? D_AXIS_Y : row[0] }, style: { stroke: "#ff0000", lineWidth: 1 } },
          {
            type: "text",
            style: { text: D_NAMES[i], x: up ? x1 : x2, y: (row[0] + row[1]) / 2 + 0.5, textAlign: up ? "right" : "left", textVerticalAlign: "middle", font: FONT, fill: "#000" },
          },
        ],
      };
    },
  });

  // binding sites
  series.push({
    type: "custom", xAxisIndex: 0, yAxisIndex: 0, silent: true, z: 6,
    data: SITE_START.map((s, i) => [s, SITE_END[i], i]),
    encode: { x: [0, 1], y: 2 },
    renderItem: (p: any, api: any) => {
      const i = api.value(2);
      const x1 = xc(api, SITE_START[i]);
      const x2 = xc(api, SITE_END[i]);
      return { type: "rect", shape: { x: x1, y: D_AXIS_Y, width: x2 - x1, height: D_ROW["-"][0] - D_AXIS_Y }, style: { fill: "none", stroke: "#ff0000", lineWidth: 1 } };
    },
  });

  // segment bars
  series.push({
    type: "custom", xAxisIndex: 0, yAxisIndex: 0, silent: true, z: 6,
    data: BAR_START.map((s, i) => [s, BAR_END[i], i]),
    encode: { x: [0, 1], y: 2 },
    renderItem: (p: any, api: any) => {
      const i = api.value(2);
      const x1 = xc(api, BAR_START[i]);
      const x2 = xc(api, BAR_END[i]);
      return {
        type: "group",
        children: [
          { type: "rect", shape: { x: x1, y: BAR_TOP[i], width: x2 - x1, height: BAR_HT[i] }, style: { fill: BAR_COLORS[i] } },
          { type: "text", style: { text: BAR_STRAND[i], x: (x1 + x2) / 2, y: BAR_TOP[i] - 7, textAlign: "center", textVerticalAlign: "middle", font: FONT, fill: "#000" } },
        ],
      };
    },
  });

  // expression tracks
  TRACKS.forEach((t, k) => {
    REF_LEVELS[k].forEach((lv) => {
      series.push({
        type: "line", xAxisIndex: k + 3, yAxisIndex: k + 2, data: refData(t.segs, lv), clip: false,
        symbol: "none", showSymbol: false, silent: true, connectNulls: false, z: 2,
        lineStyle: { color: t.refColor, width: 1 }, itemStyle: { color: t.refColor },
      });
    });
    t.lines.forEach((ln: any, j: number) => {
      series.push({
        type: "line", xAxisIndex: k + 3, yAxisIndex: k + 2, data: lineData(ln), clip: false,
        symbol: "none", showSymbol: false, silent: true, connectNulls: false, z: 3,
        lineStyle: { color: t.colors[j], width: t.width }, itemStyle: { color: t.colors[j] },
      });
    });
  });

  return {
    animation: false,
    backgroundColor: "#ffffff",
    grid: grids,
    xAxis: xAxes,
    yAxis: yAxes,
    graphic: [
      { type: "text", x: -2.7, y: 149, style: { text: SRNA_TRACK, font: FONT, fill: "#000", textVerticalAlign: "middle" } },
    ],
    series,
  };
}

export default function App() {
  const ref = useRef<HTMLDivElement>(null);
  useEffect(() => {
    document.body.style.margin = "0";
    if (!ref.current) return;
    const chart = echarts.init(ref.current, undefined, { renderer: "svg", width: W, height: H });
    chart.setOption(buildOption() as any);
    return () => chart.dispose();
  }, []);
  return <div ref={ref} style={{ width: W, height: H, background: "#fff" }} />;
}
